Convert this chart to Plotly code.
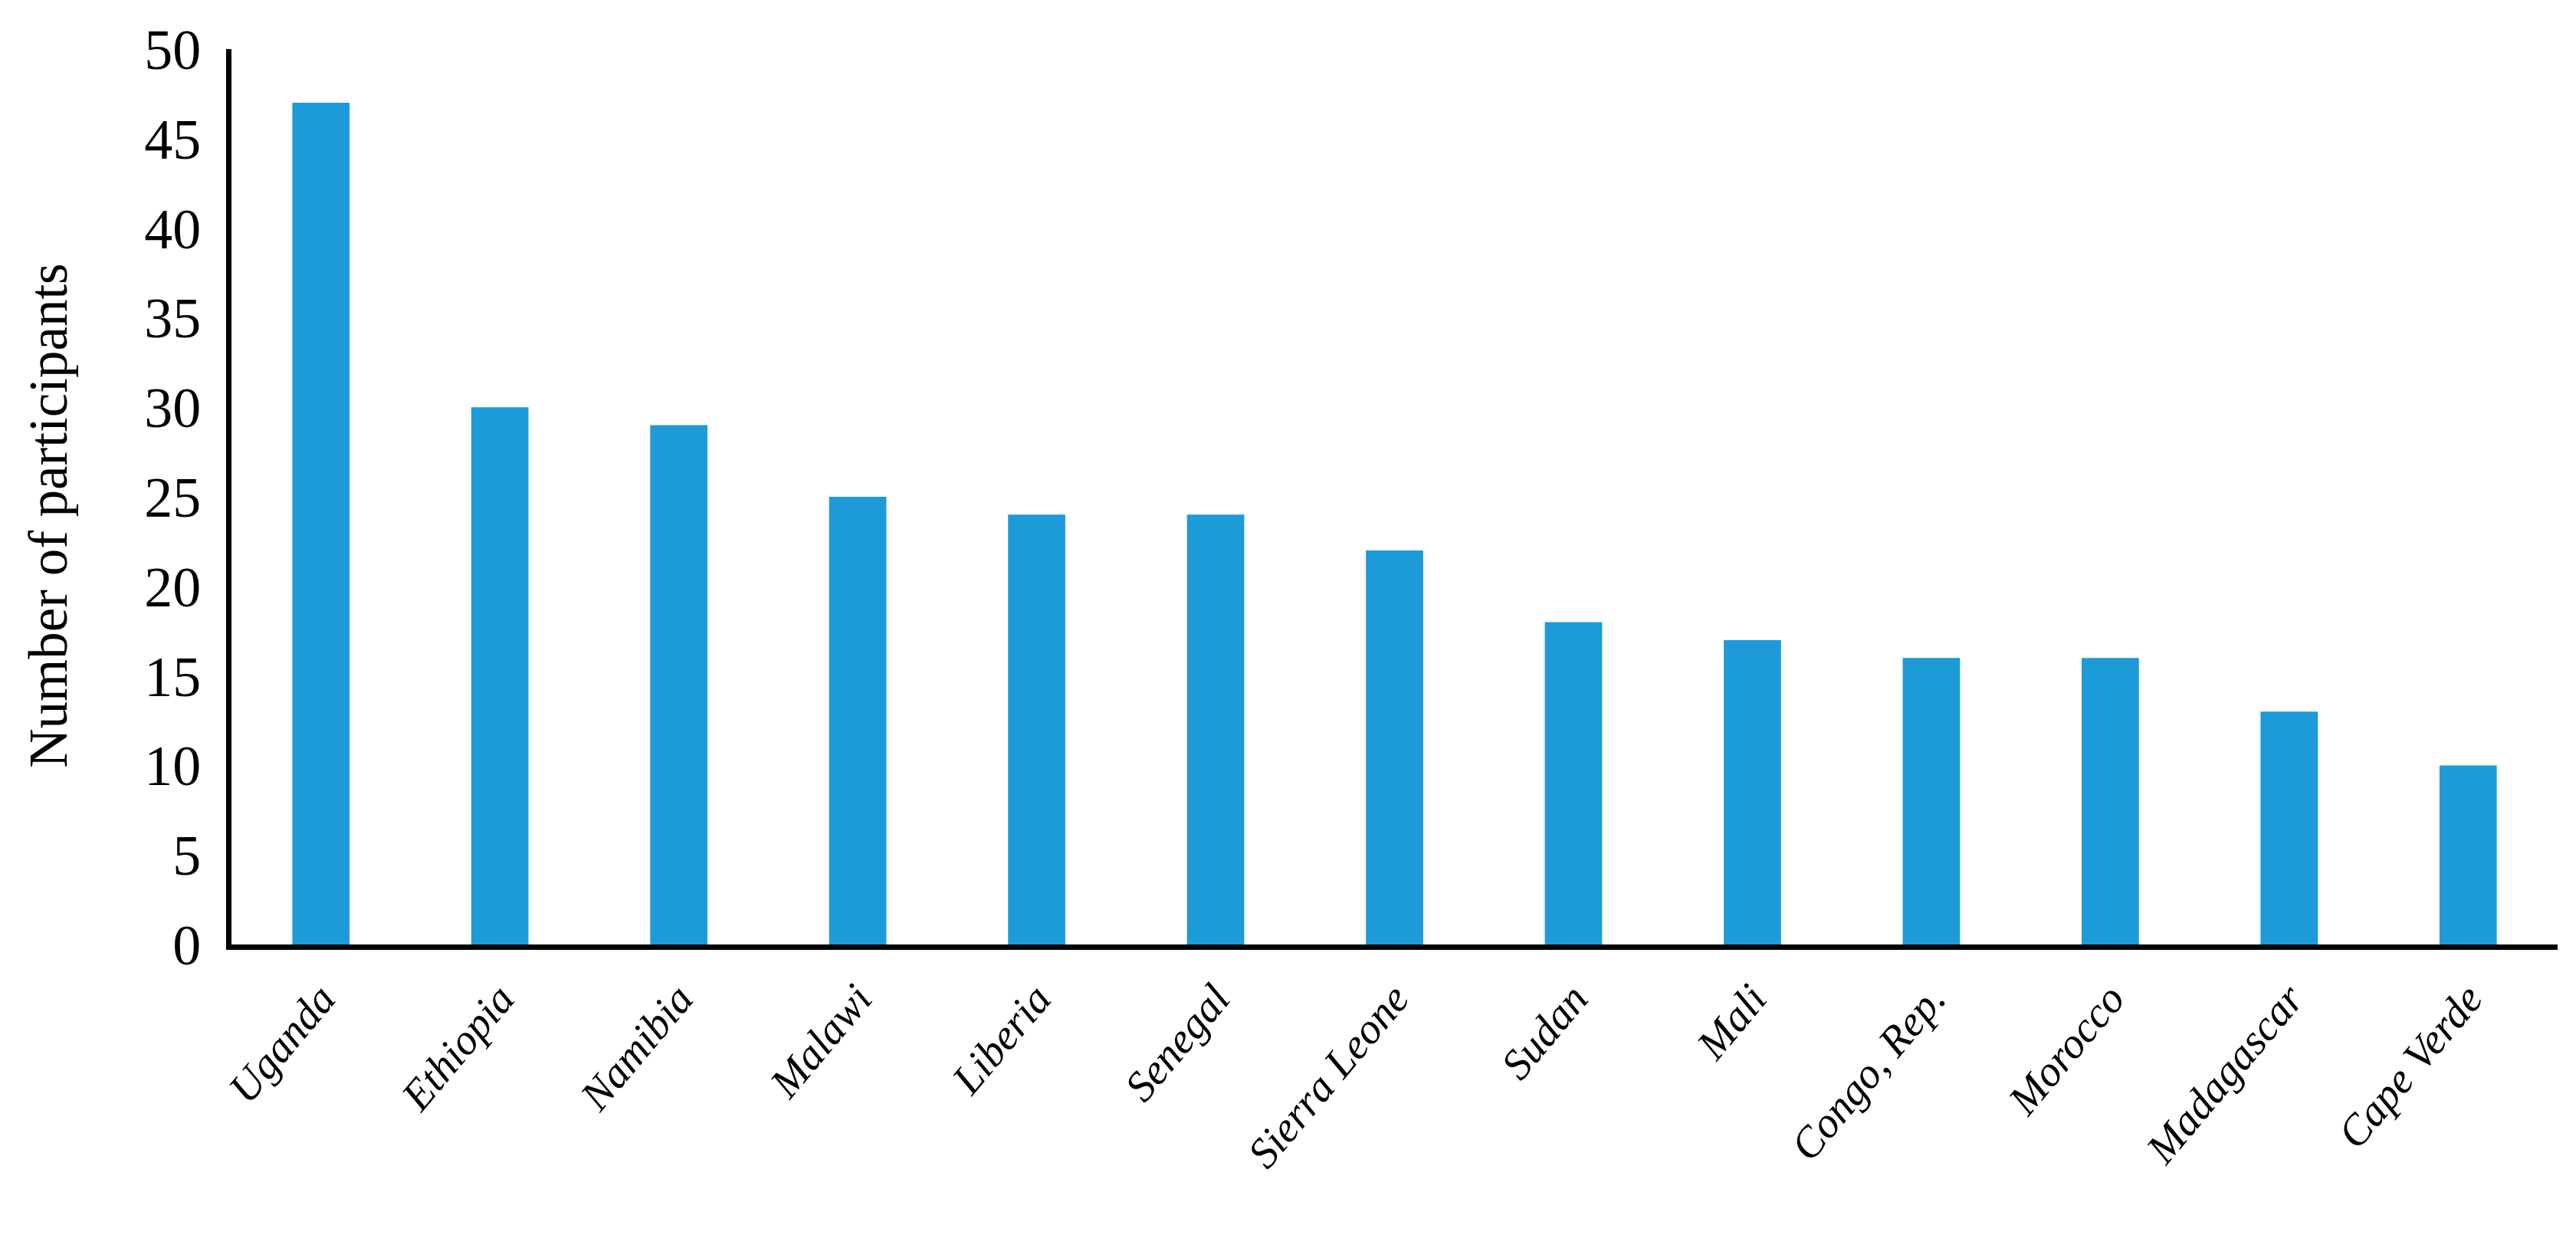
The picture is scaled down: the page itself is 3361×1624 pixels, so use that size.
import plotly.graph_objects as go

countries = ["Uganda", "Ethiopia", "Namibia", "Malawi", "Liberia", "Senegal",
             "Sierra Leone", "Sudan", "Mali", "Congo, Rep.", "Morocco",
             "Madagascar", "Cape Verde"]
participants = [47, 30, 29, 25, 24, 24, 22, 18, 17, 16, 16, 13, 10]
y_ticks = [0, 5, 10, 15, 20, 25, 30, 35, 40, 45, 50]

serif = "Palatino Linotype, Book Antiqua, Palatino, Liberation Serif, serif"

fig = go.Figure()
fig.add_trace(go.Bar(
    x=countries,
    y=participants,
    marker=dict(color="#1D9BD8", line=dict(width=0)),
    showlegend=False
))

fig.update_layout(
    width=3361,
    height=1624,
    margin=dict(l=294, r=32, t=56, b=400),
    paper_bgcolor="white",
    plot_bgcolor="white",
    bargap=0.68,
    font=dict(family=serif, color="black"),
    xaxis=dict(
        showline=True,
        linecolor="black",
        linewidth=7,
        showgrid=False,
        ticks="",
        tickangle=-50,
        ticklabelstandoff=8,
        tickfont=dict(family=serif, size=56, style="italic"),
        range=[-0.5, 12.5],
    ),
    yaxis=dict(
        range=[0, 50],
        tickvals=y_ticks,
        showline=True,
        linecolor="black",
        linewidth=7,
        showgrid=False,
        zeroline=False,
        ticks="",
        ticklabelstandoff=18,
        tickfont=dict(family=serif, size=74),
    ),
)

# y axis title
fig.add_annotation(
    text="Number of participants",
    xref="paper", yref="paper",
    x=-0.079, y=0.479,
    xanchor="center", yanchor="middle",
    textangle=-90,
    showarrow=False,
    font=dict(family=serif, size=71, color="black"),
)

fig.write_html("out.html")
